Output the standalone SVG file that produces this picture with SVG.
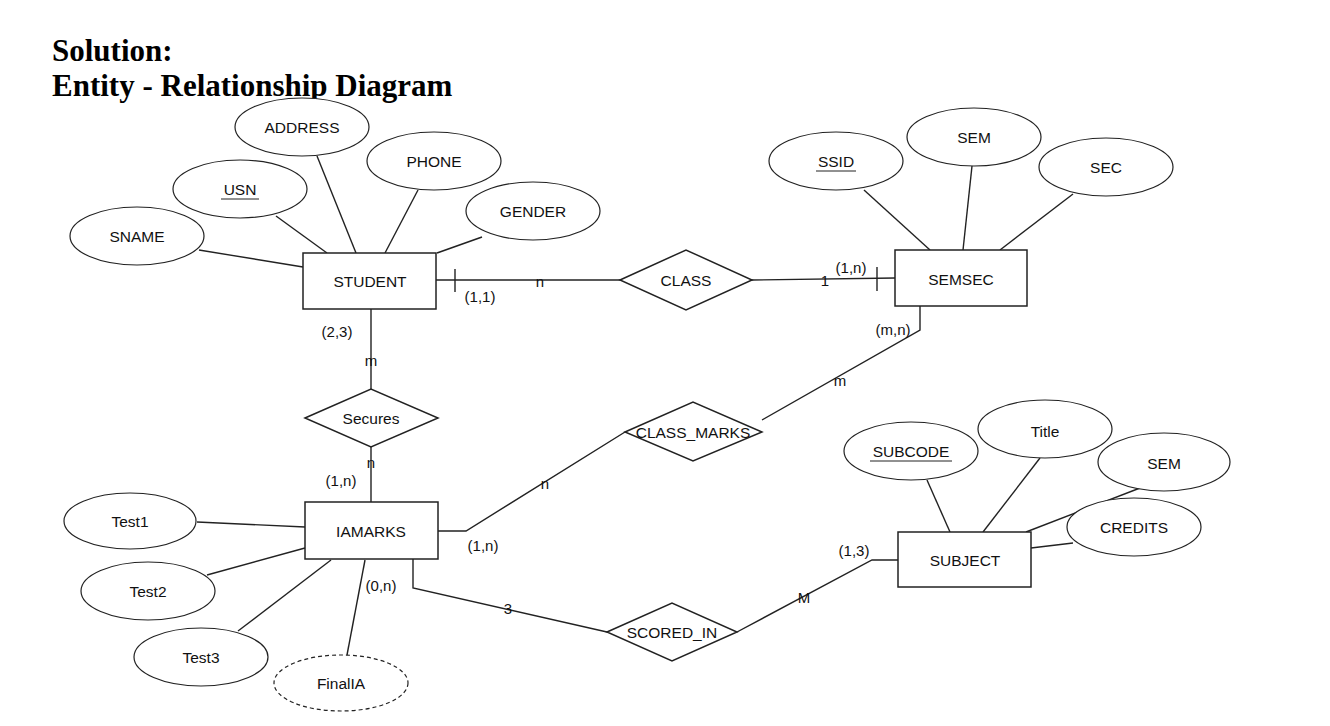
<svg xmlns="http://www.w3.org/2000/svg" width="1330" height="726" viewBox="0 0 1330 726">
<style>
.title{font-family:"Liberation Serif","Times New Roman",serif;font-weight:bold;font-size:31px;fill:#000}
.t{font-family:"Liberation Sans",Arial,sans-serif;font-size:15.5px;fill:#111;text-anchor:middle;dominant-baseline:central}
.s{font-family:"Liberation Sans",Arial,sans-serif;font-size:15px;fill:#111;text-anchor:middle;dominant-baseline:central}
.e{fill:#fff;stroke:#222;stroke-width:1.2}
.d{fill:#fff;stroke:#222;stroke-width:1.2;stroke-dasharray:4 3}
.r{fill:#fff;stroke:#222;stroke-width:1.5}
.l{fill:none;stroke:#222;stroke-width:1.4}
.u{stroke:#222;stroke-width:1}
</style>
<rect width="1330" height="726" fill="#fff"/>
<text class="title" x="52" y="61">Solution:</text>
<text class="title" x="52" y="96">Entity - Relationship Diagram</text>

<g id="connectors">
<!-- STUDENT attributes -->
<line class="l" x1="199" y1="250" x2="303" y2="267"/>
<line class="l" x1="276" y1="216" x2="327" y2="253"/>
<line class="l" x1="317" y1="156" x2="356" y2="253"/>
<line class="l" x1="418" y1="190" x2="385" y2="253"/>
<line class="l" x1="482" y1="237" x2="437" y2="253"/>
<!-- SEMSEC attributes -->
<line class="l" x1="864" y1="190" x2="930" y2="250"/>
<line class="l" x1="972" y1="166" x2="963" y2="250"/>
<line class="l" x1="1073" y1="194" x2="1000" y2="250"/>
<!-- STUDENT - CLASS - SEMSEC -->
<line class="l" x1="436" y1="280" x2="620" y2="280"/>
<line class="l" x1="455" y1="269" x2="455" y2="292"/>
<line class="l" x1="752" y1="280" x2="895" y2="278"/>
<line class="l" x1="877" y1="267" x2="877" y2="291"/>
<!-- SEMSEC - CLASS_MARKS - IAMARKS -->
<polyline class="l" points="920,306 920,330 762,420"/>
<polyline class="l" points="625,432 466,531 437,531"/>
<!-- STUDENT - Secures - IAMARKS -->
<line class="l" x1="371" y1="309" x2="371" y2="389"/>
<line class="l" x1="371" y1="447" x2="371" y2="502"/>
<!-- IAMARKS attributes -->
<line class="l" x1="197" y1="522" x2="305" y2="527"/>
<line class="l" x1="207" y1="575" x2="305" y2="548"/>
<line class="l" x1="238" y1="631" x2="331" y2="560"/>
<line class="l" x1="347" y1="655" x2="365" y2="560"/>
<!-- IAMARKS - SCORED_IN - SUBJECT -->
<polyline class="l" points="413,559 413,588 607,632"/>
<polyline class="l" points="737,632 872,560 898,560"/>
<!-- SUBJECT attributes -->
<line class="l" x1="927" y1="480" x2="950" y2="532"/>
<line class="l" x1="1040" y1="458" x2="983" y2="532"/>
<line class="l" x1="1140" y1="488" x2="1026" y2="532"/>
<line class="l" x1="1073" y1="543" x2="1031" y2="548"/>
<!-- cardinality labels -->
<text class="s" x="540" y="281">n</text>
<text class="s" x="480" y="296">(1,1)</text>
<text class="s" x="825" y="280">1</text>
<text class="s" x="851" y="267">(1,n)</text>
<text class="s" x="893" y="329">(m,n)</text>
<text class="s" x="840" y="380">m</text>
<text class="s" x="545" y="483">n</text>
<text class="s" x="483" y="545">(1,n)</text>
<text class="s" x="337" y="331">(2,3)</text>
<text class="s" x="371" y="360">m</text>
<text class="s" x="371" y="462">n</text>
<text class="s" x="341" y="480">(1,n)</text>
<text class="s" x="381" y="585">(0,n)</text>
<text class="s" x="508" y="608">3</text>
<text class="s" x="804" y="597">M</text>
<text class="s" x="854" y="550">(1,3)</text>
</g>

<g id="STUDENT"><rect class="r" x="303" y="253" width="133" height="56"/><text class="t" x="370" y="281">STUDENT</text></g>
<g id="ADDRESS"><ellipse class="e" cx="302" cy="127" rx="67" ry="29"/><text class="t" x="302" y="127">ADDRESS</text></g>
<g id="USN"><ellipse class="e" cx="240" cy="189" rx="67" ry="29"/><text class="t" x="240" y="189">USN</text><line class="u" x1="221" y1="199" x2="259" y2="199"/></g>
<g id="PHONE"><ellipse class="e" cx="434" cy="161" rx="67" ry="29"/><text class="t" x="434" y="161">PHONE</text></g>
<g id="GENDER"><ellipse class="e" cx="533" cy="211" rx="67" ry="29"/><text class="t" x="533" y="211">GENDER</text></g>
<g id="SNAME"><ellipse class="e" cx="137" cy="236" rx="67" ry="29"/><text class="t" x="137" y="236">SNAME</text></g>

<g id="CLASS"><polygon class="r" points="620,280 686,250 752,280 686,310"/><text class="t" x="686" y="280">CLASS</text></g>

<g id="SEMSEC"><rect class="r" x="895" y="250" width="132" height="56"/><text class="t" x="961" y="279">SEMSEC</text></g>
<g id="SSID"><ellipse class="e" cx="836" cy="161" rx="67" ry="29"/><text class="t" x="836" y="161">SSID</text><line class="u" x1="816" y1="171" x2="856" y2="171"/></g>
<g id="SEM1"><ellipse class="e" cx="974" cy="137" rx="67" ry="29"/><text class="t" x="974" y="137">SEM</text></g>
<g id="SEC"><ellipse class="e" cx="1106" cy="167" rx="67" ry="29"/><text class="t" x="1106" y="167">SEC</text></g>

<g id="Secures"><polygon class="r" points="305,418 371,389 438,418 371,447"/><text class="t" x="371" y="418">Secures</text></g>
<g id="CLASS_MARKS"><polygon class="r" points="625,432 693,402 762,432 693,461"/><text class="t" x="693" y="432">CLASS_MARKS</text></g>

<g id="IAMARKS"><rect class="r" x="305" y="502" width="133" height="57"/><text class="t" x="371" y="531">IAMARKS</text></g>
<g id="Test1"><ellipse class="e" cx="130" cy="521" rx="66" ry="28"/><text class="t" x="130" y="521">Test1</text></g>
<g id="Test2"><ellipse class="e" cx="148" cy="591" rx="67" ry="29"/><text class="t" x="148" y="591">Test2</text></g>
<g id="Test3"><ellipse class="e" cx="201" cy="657" rx="67" ry="29"/><text class="t" x="201" y="657">Test3</text></g>
<g id="FinalIA"><ellipse class="d" cx="341" cy="683" rx="67" ry="28"/><text class="t" x="341" y="683">FinalIA</text></g>

<g id="SCORED_IN"><polygon class="r" points="607,632 672,603 737,632 672,661"/><text class="t" x="672" y="632">SCORED_IN</text></g>

<g id="SUBJECT"><rect class="r" x="898" y="532" width="133" height="55"/><text class="t" x="965" y="560">SUBJECT</text></g>
<g id="SUBCODE"><ellipse class="e" cx="911" cy="451" rx="67" ry="29"/><text class="t" x="911" y="451">SUBCODE</text><line class="u" x1="870" y1="461" x2="952" y2="461"/></g>
<g id="Title"><ellipse class="e" cx="1045" cy="429" rx="67" ry="29"/><text class="t" x="1045" y="431">Title</text></g>
<g id="SEM2"><ellipse class="e" cx="1164" cy="462" rx="66" ry="29"/><text class="t" x="1164" y="463">SEM</text></g>
<g id="CREDITS"><ellipse class="e" cx="1134" cy="527" rx="67" ry="29"/><text class="t" x="1134" y="527">CREDITS</text></g>
</svg>
